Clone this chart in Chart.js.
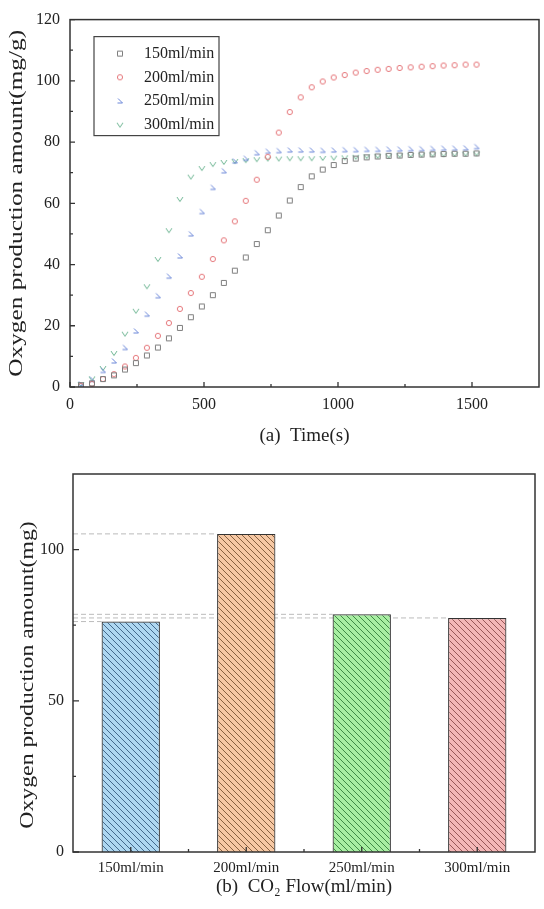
<!DOCTYPE html>
<html>
<head>
<meta charset="utf-8">
<script src="https://cdn.jsdelivr.net/npm/chart.js@4.4.0/dist/chart.umd.min.js"></script>
<style>
  body { margin: 0; background: #fff; }
  canvas { display: block; }
</style>
</head>
<body>
<canvas id="curveChart" width="544" height="455"></canvas>
<canvas id="barChart" width="544" height="454"></canvas>
<script>
// sampling times (s)
const times = [41, 82, 123, 164, 205, 246, 287, 328, 369, 410, 451, 492, 533, 574, 615, 656, 697, 738, 779,
  820, 861, 902, 943, 984, 1025, 1066, 1107, 1148, 1189, 1230, 1271, 1312, 1353, 1394, 1435, 1476, 1517];

// oxygen production (mg/g) for each CO2 flow
const flow150 = [0.6, 1.2, 2.6, 3.8, 5.7, 7.8, 10.3, 12.9, 15.9, 19.3, 22.8, 26.3, 30.0, 34.0, 38.0, 42.3, 46.7, 51.2, 56.0,
  60.9, 65.3, 68.8, 71.0, 72.5, 73.8, 74.6, 75.0, 75.3, 75.5, 75.6, 75.8, 75.9, 76.0, 76.1, 76.2, 76.2, 76.3];
const flow200 = [0.4, 1.0, 2.6, 4.2, 6.7, 9.5, 12.8, 16.7, 20.9, 25.5, 30.7, 36.0, 41.8, 47.9, 54.1, 60.8, 67.7, 75.2, 83.1,
  89.8, 94.6, 97.9, 99.8, 101.1, 101.9, 102.7, 103.2, 103.6, 103.9, 104.2, 104.4, 104.6, 104.8, 105.0, 105.1, 105.3, 105.3];
const flow250 = [1.0, 2.5, 5.4, 8.5, 12.9, 18.3, 23.8, 29.8, 36.2, 42.8, 50.0, 57.3, 65.2, 70.6, 73.8, 74.7, 76.5, 77.0, 77.2,
  77.4, 77.4, 77.4, 77.3, 77.4, 77.5, 77.5, 77.6, 77.6, 77.7, 77.7, 77.8, 77.8, 77.9, 78.0, 78.0, 78.1, 78.5];
const flow300 = [1.0, 2.8, 6.2, 11.1, 17.4, 24.9, 32.9, 41.8, 51.2, 61.4, 68.7, 71.5, 72.8, 73.5, 73.8, 74.1, 74.4, 74.6, 74.6,
  74.7, 74.7, 74.7, 74.8, 74.9, 75.0, 75.2, 75.4, 75.5, 75.6, 75.7, 75.8, 75.9, 76.0, 76.0, 76.1, 76.2, 76.3];

const seriesLabels = ["150ml/min", "200ml/min", "250ml/min", "300ml/min"];

const xTicks = [0, 500, 1000, 1500];
const xMinorTicks = [250, 750, 1250];
const yTicks = [0, 20, 40, 60, 80, 100, 120];
const yMinorTicks = [10, 30, 50, 70, 90, 110];

// final amount per flow (mg)
const flowCategories = ["150ml/min", "200ml/min", "250ml/min", "300ml/min"];
const finalAmounts = [76.2, 105.2, 78.6, 77.4];
const barYTicks = [0, 50, 100];
const barYMinorTicks = [25, 75];

const FONT = "'Liberation Serif', 'Times New Roman', serif";

function makeMarker(kind, color) {
  const c = document.createElement("canvas");
  c.width = 10;
  c.height = 10;
  const g = c.getContext("2d");
  g.strokeStyle = color;
  g.lineWidth = 1;
  g.beginPath();
  if (kind === "square") g.rect(2.5, 2.5, 5, 5);
  else if (kind === "circle") g.arc(5, 5, 2.6, 0, Math.PI * 2);
  else if (kind === "wedge") {
    g.moveTo(3, 2.5);
    g.lineTo(7.5, 7);
    g.lineTo(2.5, 7);
  } else {
    g.moveTo(2, 3);
    g.lineTo(5, 7.5);
    g.lineTo(8, 3);
  }
  g.stroke();
  return c;
}

function makeHatch(fill, line) {
  const s = 6;
  const c = document.createElement("canvas");
  c.width = s;
  c.height = s;
  const g = c.getContext("2d");
  g.fillStyle = fill;
  g.fillRect(0, 0, s, s);
  g.strokeStyle = line;
  g.lineWidth = 1;
  g.beginPath();
  g.moveTo(-1, -1); g.lineTo(s + 1, s + 1);
  g.moveTo(-1, s - 1); g.lineTo(1, s + 1);
  g.moveTo(s - 1, -1); g.lineTo(s + 1, 1);
  g.stroke();
  return g.createPattern(c, "repeat");
}

function drawFrame(ctx, a) {
  ctx.save();
  ctx.strokeStyle = "#333";
  ctx.lineWidth = 1.5;
  ctx.strokeRect(a.left, a.top, a.right - a.left, a.bottom - a.top);
  ctx.restore();
}

// tick marks pointing into the plot
function drawInTicks(ctx, a, xm, ym) {
  ctx.save();
  ctx.strokeStyle = "#333";
  ctx.lineWidth = 1.3;
  ctx.beginPath();
  xm.forEach(([px, len]) => { ctx.moveTo(px, a.bottom); ctx.lineTo(px, a.bottom - len); });
  ym.forEach(([py, len]) => { ctx.moveTo(a.left, py); ctx.lineTo(a.left + len, py); });
  ctx.stroke();
  ctx.restore();
}

function drawTitles(ctx, a, xText, xOffset, yText, yCenterX, yShift, stretch) {
  ctx.save();
  ctx.font = "19px " + FONT;
  ctx.fillStyle = "#222";
  ctx.textAlign = "center";
  ctx.textBaseline = "middle";
  ctx.fillText(xText, (a.left + a.right) / 2, a.bottom + xOffset);
  ctx.translate(yCenterX, (a.top + a.bottom) / 2 + yShift);
  ctx.rotate(-Math.PI / 2);
  ctx.scale(stretch, 1);
  ctx.fillText(yText, 0, 0);
  ctx.restore();
}

function drawLegend(chart) {
  const { ctx, chartArea: a } = chart;
  const left = a.left + 24, top = a.top + 17;
  ctx.save();
  ctx.strokeStyle = "#444";
  ctx.lineWidth = 1.2;
  ctx.strokeRect(left, top, 125, 99);
  ctx.font = "16px " + FONT;
  ctx.fillStyle = "#222";
  ctx.textBaseline = "middle";
  chart.data.datasets.forEach((ds, i) => {
    const cy = top + 17 + i * 23.7;
    const m = ds.pointStyle;
    ctx.drawImage(m, left + 26 - m.width / 2, cy - m.height / 2);
    ctx.fillText(ds.label, left + 50, cy);
  });
  ctx.restore();
}

const markers = [
  makeMarker("square", "#7d7d7d"),
  makeMarker("circle", "#e5767a"),
  makeMarker("wedge", "#6a86d8"),
  makeMarker("vee", "#6db592"),
];
const seriesValues = [flow150, flow200, flow250, flow300];

const curveDecor = {
  id: "curveDecor",
  afterDraw(chart) {
    const { ctx, chartArea: a, scales: { x, y } } = chart;
    drawFrame(ctx, a);
    const xm = xTicks.map(v => [x.getPixelForValue(v), 5])
      .concat(xMinorTicks.map(v => [x.getPixelForValue(v), 3]));
    const ym = yTicks.map(v => [y.getPixelForValue(v), 5])
      .concat(yMinorTicks.map(v => [y.getPixelForValue(v), 3]));
    drawInTicks(ctx, a, xm, ym);
    drawLegend(chart);
    drawTitles(ctx, a, "(a)  Time(s)", 49, "Oxygen production amount(mg/g)", 17, 0, 1.33);
  },
};

new Chart(document.getElementById("curveChart"), {
  type: "scatter",
  data: {
    datasets: seriesValues.map((vals, i) => ({
      label: seriesLabels[i],
      data: times.map((t, k) => ({ x: t, y: vals[k] })),
      pointStyle: markers[i],
      showLine: false,
    })),
  },
  options: {
    responsive: false,
    animation: false,
    events: [],
    layout: { padding: { top: 12, right: 2, left: 0, bottom: 0 } },
    plugins: { legend: { display: false }, tooltip: { enabled: false } },
    scales: {
      x: {
        type: "linear",
        min: 0,
        max: 1750,
        grid: { display: false, drawTicks: false },
        border: { display: false },
        afterBuildTicks: s => { s.ticks = xTicks.map(v => ({ value: v })); },
        afterFit: s => { s.height = 68; },
        ticks: {
          font: { family: FONT, size: 16 }, color: "#222", padding: 8, maxRotation: 0,
          callback: v => String(v),
        },
      },
      y: {
        min: 0,
        max: 120,
        grid: { display: false, drawTicks: false },
        border: { display: false },
        afterBuildTicks: s => { s.ticks = yTicks.map(v => ({ value: v })); },
        afterFit: s => { s.width = 70; },
        ticks: { font: { family: FONT, size: 16 }, color: "#222", padding: 10, callback: v => String(v) },
      },
    },
  },
  plugins: [curveDecor],
});

const hatches = [
  makeHatch("#aed7f1", "#43698c"),
  makeHatch("#f6c8a4", "#86603f"),
  makeHatch("#a8eea2", "#3f8a45"),
  makeHatch("#f4b7b7", "#985858"),
];

const barDecor = {
  id: "barDecor",
  beforeDatasetsDraw(chart) {
    const { ctx, chartArea: a } = chart;
    ctx.save();
    ctx.strokeStyle = "#bbbbbb";
    ctx.lineWidth = 1;
    ctx.setLineDash([5, 3]);
    chart.getDatasetMeta(0).data.forEach(b => {
      ctx.beginPath();
      ctx.moveTo(a.left, b.y);
      ctx.lineTo(b.x - b.width / 2, b.y);
      ctx.stroke();
    });
    ctx.restore();
  },
  afterDraw(chart) {
    const { ctx, chartArea: a, scales: { x, y } } = chart;
    drawFrame(ctx, a);
    const centers = flowCategories.map((_, i) => x.getPixelForTick(i));
    const xm = centers.map(px => [px, 5]);
    for (let i = 0; i < centers.length - 1; i++) xm.push([(centers[i] + centers[i + 1]) / 2, 3]);
    const ym = barYTicks.map(v => [y.getPixelForValue(v), 6])
      .concat(barYMinorTicks.map(v => [y.getPixelForValue(v), 3]));
    drawInTicks(ctx, a, xm, ym);
    drawTitles(ctx, a, "(b)  CO\u2082 Flow(ml/min)", 35, "Oxygen production amount(mg)", 28, 12, 1.25);
  },
};

new Chart(document.getElementById("barChart"), {
  type: "bar",
  data: {
    labels: flowCategories,
    datasets: [{
      data: finalAmounts,
      backgroundColor: hatches,
      borderColor: "#333",
      borderWidth: 1.2,
      barPercentage: 0.505,
      categoryPercentage: 1.0,
    }],
  },
  options: {
    responsive: false,
    animation: false,
    events: [],
    layout: { padding: { top: 19, right: 9, left: 0, bottom: 0 } },
    plugins: { legend: { display: false }, tooltip: { enabled: false } },
    scales: {
      x: {
        grid: { display: false, drawTicks: false },
        border: { display: false },
        afterFit: s => { s.height = 57; },
        ticks: { font: { family: FONT, size: 15 }, color: "#222", padding: 7, maxRotation: 0 },
      },
      y: {
        min: 0,
        max: 125,
        grid: { display: false, drawTicks: false },
        border: { display: false },
        afterBuildTicks: s => { s.ticks = barYTicks.map(v => ({ value: v })); },
        afterFit: s => { s.width = 73; },
        ticks: { font: { family: FONT, size: 16 }, color: "#222", padding: 9, callback: v => String(v) },
      },
    },
  },
  plugins: [barDecor],
});
</script>
</body>
</html>
